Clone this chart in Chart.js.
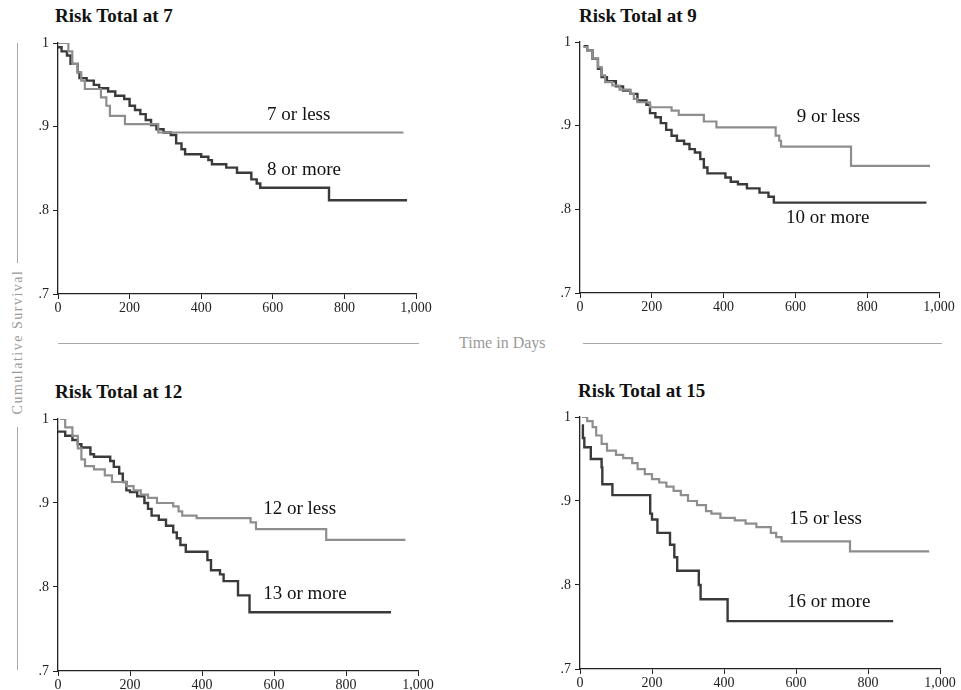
<!DOCTYPE html>
<html>
<head>
<meta charset="utf-8">
<script src="https://cdn.jsdelivr.net/npm/chart.js@4"></script>
<style>
  html, body { margin:0; padding:0; background:#fff; }
  #wrap { position:relative; width:961px; height:690px; overflow:hidden; background:#fff; }
  canvas { position:absolute; }
  .title { position:absolute; font-family:"Liberation Serif", serif; font-weight:bold; font-size:19px; line-height:19px; color:#111; white-space:nowrap; }
  .hline { position:absolute; height:0; border-top:1.5px solid #a8a8a8; }
  .vline { position:absolute; width:0; border-left:1.5px solid #a8a8a8; }
  #xlab { position:absolute; font-family:"Liberation Serif", serif; font-size:16px; color:#9a9a9a; white-space:nowrap; }
  #ylab { position:absolute; font-family:"Liberation Serif", serif; font-size:14px; letter-spacing:1.5px; color:#9a9a9a; white-space:nowrap; transform:translate(-50%,-50%) rotate(-90deg); }
</style>
</head>
<body>
<div id="wrap">
  <div class="title" style="left:55px;top:6px;">Risk Total at 7</div>
  <div class="title" style="left:579px;top:6px;">Risk Total at 9</div>
  <div class="title" style="left:55px;top:382px;">Risk Total at 12</div>
  <div class="title" style="left:578px;top:381px;">Risk Total at 15</div>
  <div class="hline" style="left:58px;top:343px;width:361px;"></div>
  <div class="hline" style="left:583px;top:343px;width:359px;"></div>
  <div id="xlab" style="left:459px;top:334px;">Time in Days</div>
  <div class="vline" style="left:17px;top:43px;height:220px;"></div>
  <div class="vline" style="left:17px;top:427px;height:243px;"></div>
  <div id="ylab" style="left:18px;top:342px;">Cumulative Survival</div>
</div>
<script>
// ---- tick labels ----
const xTicks = [0, 200, 400, 600, 800, 1000];
const yTicks = [0.7, 0.8, 0.9, 1.0];

// ---- panel titles / group labels ----
const panelTitles = ["Risk Total at 7", "Risk Total at 9", "Risk Total at 12", "Risk Total at 15"];
const lowLabels = ["7 or less", "9 or less", "12 or less", "15 or less"];
const highLabels = ["8 or more", "10 or more", "13 or more", "16 or more"];

// ---- Panel 1: Risk Total at 7 ----
const p1LowDays = [0, 29, 40, 55, 65, 75, 120, 135, 145, 187, 280, 965];
const p1LowSurv = [1.0, 0.99, 0.975, 0.965, 0.955, 0.945, 0.935, 0.925, 0.913, 0.903, 0.893, 0.893];
const p1HighDays = [0, 10, 25, 35, 55, 60, 80, 100, 115, 140, 160, 185, 200, 215, 230, 245, 260, 275, 295, 315, 330, 345, 355, 400, 420, 430, 470, 500, 540, 555, 565, 757, 975];
const p1HighSurv = [0.995, 0.99, 0.985, 0.975, 0.965, 0.958, 0.955, 0.95, 0.946, 0.942, 0.937, 0.933, 0.925, 0.92, 0.915, 0.908, 0.902, 0.897, 0.893, 0.89, 0.88, 0.873, 0.867, 0.864, 0.86, 0.855, 0.851, 0.845, 0.837, 0.832, 0.827, 0.812, 0.812];

// ---- Panel 2: Risk Total at 9 ----
const p2LowDays = [10, 20, 35, 50, 60, 70, 90, 110, 140, 150, 160, 195, 255, 275, 345, 380, 545, 555, 560, 755, 975];
const p2LowSurv = [0.994, 0.99, 0.98, 0.97, 0.96, 0.952, 0.948, 0.943, 0.938, 0.932, 0.928, 0.922, 0.918, 0.913, 0.905, 0.898, 0.888, 0.882, 0.875, 0.852, 0.852];
const p2HighDays = [10, 20, 35, 50, 60, 75, 100, 120, 140, 160, 185, 195, 210, 225, 240, 255, 270, 290, 305, 320, 335, 345, 355, 405, 420, 440, 465, 500, 525, 540, 965];
const p2HighSurv = [0.995, 0.99, 0.98, 0.968, 0.958, 0.953, 0.947, 0.942, 0.938, 0.93, 0.925, 0.915, 0.91, 0.903, 0.895, 0.888, 0.882, 0.878, 0.872, 0.868, 0.86, 0.85, 0.843, 0.838, 0.833, 0.83, 0.825, 0.82, 0.815, 0.808, 0.808];

// ---- Panel 3: Risk Total at 12 ----
const p3LowDays = [5, 20, 40, 55, 65, 75, 100, 130, 150, 190, 210, 230, 250, 275, 320, 335, 345, 385, 535, 550, 745, 965];
const p3LowSurv = [1.0, 0.99, 0.98, 0.965, 0.952, 0.944, 0.94, 0.933, 0.925, 0.92, 0.915, 0.91, 0.906, 0.9, 0.896, 0.89, 0.885, 0.882, 0.877, 0.869, 0.856, 0.856];
const p3HighDays = [0, 20, 40, 55, 65, 90, 100, 145, 155, 170, 180, 190, 200, 220, 240, 250, 260, 280, 300, 320, 330, 340, 355, 415, 425, 450, 460, 500, 532, 925];
const p3HighSurv = [0.985, 0.98, 0.975, 0.97, 0.966, 0.958, 0.955, 0.95, 0.943, 0.935, 0.925, 0.915, 0.913, 0.908, 0.9, 0.893, 0.885, 0.88, 0.873, 0.865, 0.858, 0.85, 0.842, 0.832, 0.82, 0.815, 0.807, 0.79, 0.77, 0.77];

// ---- Panel 4: Risk Total at 15 ----
const p4LowDays = [5, 20, 35, 45, 60, 75, 100, 120, 145, 160, 180, 200, 220, 240, 260, 280, 300, 325, 350, 365, 390, 430, 460, 490, 530, 545, 560, 750, 970];
const p4LowSurv = [1.0, 0.995, 0.988, 0.978, 0.968, 0.96, 0.955, 0.951, 0.945, 0.938, 0.932, 0.926, 0.922, 0.917, 0.912, 0.907, 0.9, 0.895, 0.888, 0.885, 0.88, 0.877, 0.873, 0.869, 0.862, 0.857, 0.852, 0.84, 0.84];
const p4HighDays = [5, 8, 12, 30, 60, 62, 90, 195, 200, 215, 250, 262, 270, 330, 335, 410, 870];
const p4HighSurv = [0.99, 0.975, 0.964, 0.95, 0.94, 0.92, 0.907, 0.885, 0.878, 0.862, 0.848, 0.833, 0.817, 0.8, 0.783, 0.757, 0.757];

// ---- label anchors (data units: day, survival) ----
const lowLabelAt = [[584, 0.914], [604, 0.910], [570, 0.893], [581, 0.879]];
const highLabelAt = [[584, 0.848], [574, 0.790], [570, 0.792], [575, 0.780]];

// ---- layout (pixel plot areas) ----
const areas = [
  {L:58, T:43, R:416, B:294},
  {L:580, T:42, R:939, B:293},
  {L:58, T:419, R:418, B:671},
  {L:580, T:417, R:940, B:669}
];

const series = [
  [p1LowDays, p1LowSurv, p1HighDays, p1HighSurv],
  [p2LowDays, p2LowSurv, p2HighDays, p2HighSurv],
  [p3LowDays, p3LowSurv, p3HighDays, p3HighSurv],
  [p4LowDays, p4LowSurv, p4HighDays, p4HighSurv]
];

const PADL = 50, PADT = 12, PADR = 25, PADB = 28;
const LIGHT = '#8e8e8e', DARK = '#3a3a3a';

function toXY(days, surv) { return days.map((d, i) => ({x: d, y: surv[i]})); }

const labelPlugin = {
  id: 'groupLabels',
  afterDatasetsDraw(chart, args, opts) {
    const {ctx, scales} = chart;
    ctx.save();
    ctx.font = '19px "Liberation Serif", serif';
    ctx.fillStyle = '#111';
    ctx.textAlign = 'left';
    ctx.textBaseline = 'middle';
    opts.items.forEach(it => {
      ctx.fillText(it.text, scales.x.getPixelForValue(it.at[0]), scales.y.getPixelForValue(it.at[1]));
    });
    ctx.restore();
  }
};

const wrap = document.getElementById('wrap');
areas.forEach((a, i) => {
  const cv = document.createElement('canvas');
  const w = (a.R - a.L) + PADL + PADR;
  const h = (a.B - a.T) + PADT + PADB;
  cv.width = w; cv.height = h;
  cv.style.left = (a.L - PADL) + 'px';
  cv.style.top = (a.T - PADT) + 'px';
  cv.style.width = w + 'px'; cv.style.height = h + 'px';
  wrap.appendChild(cv);
  const [ld, ls, hd, hs] = series[i];
  new Chart(cv, {
    type: 'line',
    data: {
      datasets: [
        {label: lowLabels[i], data: toXY(ld, ls), borderColor: LIGHT, borderWidth: 2.2, stepped: true, pointRadius: 0, fill: false},
        {label: highLabels[i], data: toXY(hd, hs), borderColor: DARK, borderWidth: 2.4, stepped: true, pointRadius: 0, fill: false}
      ]
    },
    options: {
      responsive: false,
      animation: false,
      devicePixelRatio: 1,
      layout: {padding: {left: 0, top: PADT, right: PADR, bottom: 0}},
      plugins: {
        legend: {display: false},
        tooltip: {enabled: false},
        title: {display: false},
        groupLabels: {items: [
          {text: lowLabels[i], at: lowLabelAt[i]},
          {text: highLabels[i], at: highLabelAt[i]}
        ]}
      },
      scales: {
        x: {
          type: 'linear', min: 0, max: 1000,
          afterBuildTicks: s => { s.ticks = xTicks.map(v => ({value: v})); },
          afterFit: s => { s.height = PADB; s.paddingLeft = 0; s.paddingRight = 0; },
          ticks: {
            font: {family: '"Liberation Serif", serif', size: 14},
            color: '#222', padding: 1, maxRotation: 0, autoSkip: false,
            callback: v => v.toLocaleString('en-US')
          },
          grid: {drawOnChartArea: false, drawTicks: true, tickLength: 5, color: '#222', lineWidth: 1},
          border: {display: true, color: '#222', width: 1.3}
        },
        y: {
          type: 'linear', min: 0.7, max: 1.0,
          afterBuildTicks: s => { s.ticks = yTicks.map(v => ({value: v})); },
          afterFit: s => { s.width = PADL; s.paddingTop = 0; s.paddingBottom = 0; },
          ticks: {
            font: {family: '"Liberation Serif", serif', size: 14},
            color: '#222', padding: 4, autoSkip: false,
            callback: v => (Math.abs(v - 1) < 1e-9 ? '1' : v.toFixed(1).replace(/^0/, ''))
          },
          grid: {drawOnChartArea: false, drawTicks: true, tickLength: 5, color: '#222', lineWidth: 1},
          border: {display: true, color: '#222', width: 1.3}
        }
      }
    },
    plugins: [labelPlugin]
  });
});
</script>
</body>
</html>
